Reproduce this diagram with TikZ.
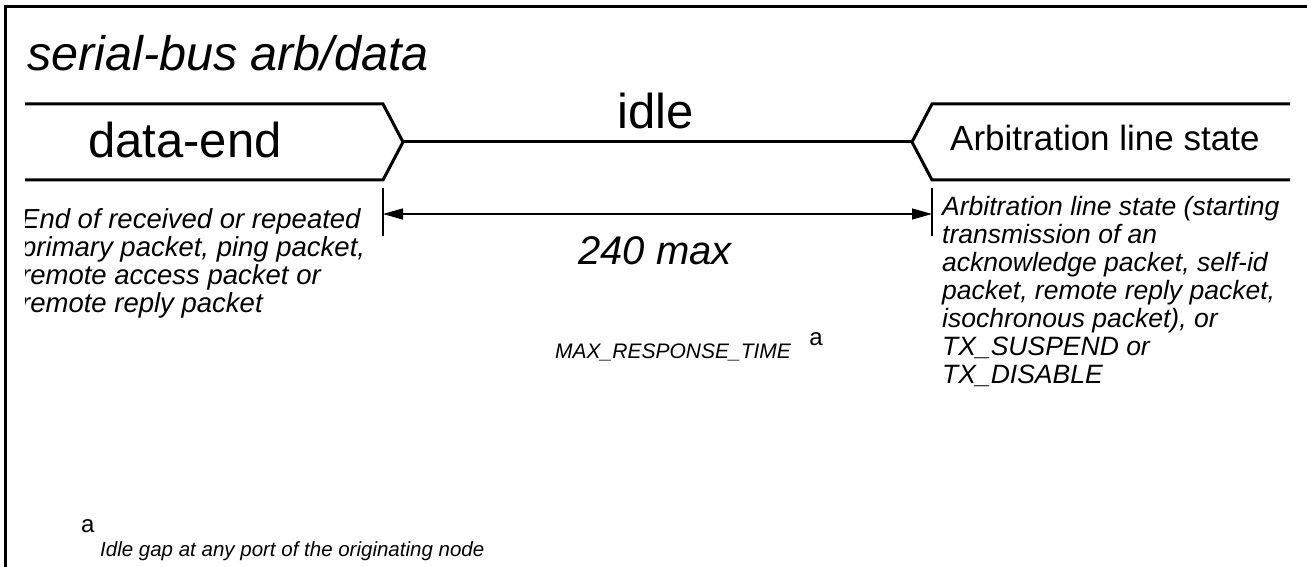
\documentclass[tikz,border=0pt]{standalone}
\usepackage{fontspec}
\setmainfont{Liberation Sans}
\usetikzlibrary{arrows.meta}
\begin{document}
\begin{tikzpicture}[x=1pt,y=-1pt,
  frame/.style={line width=3pt},
  sig/.style={line width=3pt, line join=miter},
  thinline/.style={line width=1.4pt},
  big/.style={font=\fontsize{49}{52}\selectfont, inner sep=0pt, anchor=base},
  note/.style={font=\fontsize{26.5}{28}\selectfont\itshape, align=left, inner sep=0pt, anchor=north west},
  dimarrow/.style={thinline, {Triangle[length=20pt,width=11pt]}-{Triangle[length=20pt,width=11pt]}},
  label/.style={inner sep=0pt, anchor=base},
]
\useasboundingbox (0,0) rectangle (1307,567);

% outer frame (left and top edges)
\draw[frame] (5,567) -- (5,6.5) -- (1307,6.5);

% title
\node[inner sep=0pt, anchor=base west, font=\fontsize{48.5}{52}\selectfont\itshape] (title) at (27,71) {serial-bus arb/data};

% signal states
\coordinate (endL) at (403,142);
\coordinate (endR) at (912,142);
\draw[sig] (25,104) -- (383,104) -- (endL) -- (383,180) -- (25,180);
\draw[sig] (endL) -- (endR);
\draw[sig] (1290,104) -- (932,104) -- (endR) -- (932,180) -- (1290,180);

\node[big] (dataend) at (185,158) {data-end};
\node[big] (idle) at (656,129) {idle};
\node[inner sep=0pt, anchor=base west, font=\fontsize{35}{40}\selectfont] (arb) at (950,151) {Arbitration line state};

% timing dimension
\coordinate (tickLa) at (383,188);
\coordinate (tickLb) at (383,236);
\coordinate (tickRa) at (932,188);
\coordinate (tickRb) at (932,236);
\draw[thinline] (tickLa) -- (tickLb);
\draw[thinline] (tickRa) -- (tickRb);
\coordinate (dimL) at (383,214);
\coordinate (dimR) at (932,214);
\draw[dimarrow] (dimL) -- (dimR);

\node[label, font=\fontsize{40}{44}\selectfont\itshape] (max) at (655,264) {240 max};
\node[inner sep=0pt, anchor=base west, font=\fontsize{21}{24}\selectfont\itshape] (mrt) at (555,358) {MAX\_RESPONSE\_TIME};
\node[inner sep=0pt, anchor=base west, font=\fontsize{24}{26}\selectfont] (mrta) at ([xshift=18pt,yshift=13pt]mrt.base east) {a};

% event descriptions
\begin{scope}
  \clip (25,190) rectangle (380,330);
  \node[note, font=\fontsize{27.5}{28}\selectfont\itshape] (leftnote) at (21,208) {End of received or repeated\\primary packet, ping packet,\\remote access packet or\\remote reply packet};
\end{scope}
\node[note] (rightnote) at (942,196) {Arbitration line state (starting\\transmission of an\\acknowledge packet, self-id\\packet, remote reply packet,\\isochronous packet), or\\TX\_SUSPEND or\\TX\_DISABLE};

% footnote
\node[inner sep=0pt, anchor=base west, font=\fontsize{24}{26}\selectfont] (fna) at (81,532) {a};
\node[inner sep=0pt, anchor=base west, font=\fontsize{20.5}{24}\selectfont\itshape] (fn) at (100,556) {Idle gap at any port of the originating node};
\end{tikzpicture}
\end{document}
